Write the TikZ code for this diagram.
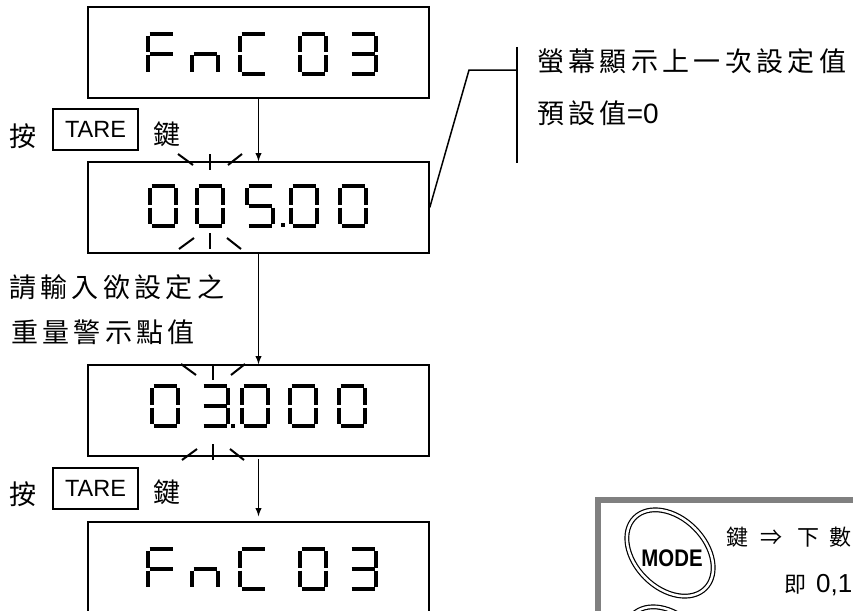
\documentclass[tikz,border=0pt]{standalone}
\usepackage{fontspec}
\setmainfont{Liberation Sans}
\newfontfamily\cjk[LetterSpace=16]{Noto Sans CJK TC}
\newfontfamily\cjkn{Noto Sans CJK TC}
\usetikzlibrary{arrows,positioning,calc}
\newcommand{\segA}{\draw[seg] (3.5,2) -- (26.5,2);}
\newcommand{\segB}{\draw[seg] (28,4) -- (28,20.5);}
\newcommand{\segC}{\draw[seg] (28,23.5) -- (28,40);}
\newcommand{\segD}{\draw[seg] (3.5,42) -- (26.5,42);}
\newcommand{\segE}{\draw[seg] (2,23.5) -- (2,40);}
\newcommand{\segF}{\draw[seg] (2,4) -- (2,20.5);}
\newcommand{\segG}{\draw[seg] (3.5,22) -- (26.5,22);}
\newcommand{\segdigit}[3]{\begin{scope}[shift={(#1,#2)}]
  \foreach \s in {#3} {\csname seg\s\endcsname}\end{scope}}
\newcommand{\blinkmarks}[3]{%
  \draw[blink] (#1,#2) -- ++(0,16);
  \draw[blink] (#1-32,#2) -- ++(15,11);
  \draw[blink] (#1+18,#2+11) -- ++(14,-11);
  \draw[blink] (#1,#3) -- ++(0,-16);
  \draw[blink] (#1-31,#3) -- ++(15,-11);
  \draw[blink] (#1+17,#3-11) -- ++(14,11);}

\begin{document}
\begin{tikzpicture}[x=1pt, y=-1pt, >=latex,
    display/.style={draw=black,line width=1.5pt,minimum width=341pt,minimum height=91pt,inner sep=0pt},
    tarekey/.style={draw=black,line width=1.5pt,minimum width=85pt,minimum height=41pt,inner sep=0pt,font=\fontsize{23.5}{26}\selectfont},
    cjktext/.style={inner sep=0pt,anchor=west,font=\cjk\fontsize{27}{30}\selectfont},
    cjkchar/.style={inner sep=0pt,font=\cjkn\fontsize{27}{30}\selectfont},
    seg/.style={line width=4pt,line cap=butt},
    blink/.style={line width=2pt},
    modekey/.style={draw,line width=1.2pt,double,double distance=2.5pt}]
  \useasboundingbox (0,0) rectangle (853,610);
  \node[display] at (258.5,52.5) (fnc) {};
  \node[display] at (258.5,207.5) (cur) {};
  \node[display] at (258.5,410.5) (ent) {};
  \node[display] at (258.5,567.5) (back) {};
  % FnC 03
  \segdigit{146}{32}{A,F,E,G} \segdigit{190}{32}{E,G,C} \segdigit{238}{32}{A,F,E,D}
  \segdigit{298}{32}{A,B,C,D,E,F} \segdigit{348}{32}{A,B,C,D,G}
  % 005.00
  \segdigit{148}{184}{A,B,C,D,E,F} \segdigit{195}{184}{A,B,C,D,E,F}
  \segdigit{245}{184}{A,F,G,C,D} \fill (280.5,222.5) rectangle ++(4,4);
  \segdigit{289}{184}{A,B,C,D,E,F} \segdigit{338}{184}{A,B,C,D,E,F}
  \blinkmarks{210}{154}{249}
  % 03.000
  \segdigit{150}{384}{A,B,C,D,E,F} \segdigit{200}{384}{A,B,C,D,G}
  \fill (230.5,423.5) rectangle ++(4,4);
  \segdigit{240}{384}{A,B,C,D,E,F} \segdigit{288}{384}{A,B,C,D,E,F}
  \segdigit{337}{384}{A,B,C,D,E,F}
  \blinkmarks{213}{364}{460}
  % FnC 03
  \segdigit{146}{547}{A,F,E,G} \segdigit{190}{547}{E,G,C} \segdigit{238}{547}{A,F,E,D}
  \segdigit{298}{547}{A,B,C,D,E,F} \segdigit{348}{547}{A,B,C,D,G}
  \draw[->,line width=1.8pt] (fnc) -- (cur);
  \draw[->,line width=1.8pt] (cur) -- (ent);
  \draw[->,line width=1.8pt,shorten <=2pt,shorten >=5pt] (ent) -- (back);
  \node[cjkchar] at (23,136) (press1) {按};
  \node[tarekey] at (95.5,129.5) (tare1) {TARE};
  \node[cjkchar] at (167,134) (key1) {鍵};
  \node[cjktext] at (9,287) (hint1) {請輸入欲設定之};
  \node[cjktext] at (11,332) (hint2) {重量警示點值};
  \node[cjkchar] at (23,494) (press2) {按};
  \node[tarekey] at (95.5,488.5) (tare2) {TARE};
  \node[cjkchar] at (167,492) (key2) {鍵};
  % callout
  \node[cjktext] at (537,61) (note1) {螢幕顯示上一次設定值};
  \node[cjktext] at (537,113) (note2) {預設值{\rmfamily\fontsize{28}{30}\selectfont =0}};
  \coordinate (brtop) at (517,47);
  \coordinate (brbot) at (517,163);
  \coordinate (knee) at (469,70);
  \draw[line width=1.8pt] (brtop) -- (brbot);
  \draw[line width=1.5pt] (cur.east) -- (knee) -- (knee -| brtop);
  % key legend
  \draw[line width=6pt,gray] (598,620) -- (598,500) -- (860,500);
  \draw[modekey,rotate around={-45:(670,553)}] (670,553) ellipse [x radius=50,y radius=35];
  \draw[modekey,rotate around={-45:(668,650)}] (668,650) ellipse [x radius=50,y radius=35];
  \node[font=\bfseries\fontsize{24}{26}\selectfont] at (672,558) (mode) {\scalebox{0.85}[1]{MODE}};
  \node[anchor=west,inner sep=0pt,font=\cjkn\fontsize{22}{25}\selectfont] at (726,537) (modetext)
    {鍵\hspace{12pt}⇒\hspace{15pt}下\hspace{10pt}數};
  \node[anchor=west,inner sep=0pt] at (784,585) (range)
    {{\cjkn\fontsize{22}{25}\selectfont 即}\hspace{10pt}{\fontsize{26}{30}\selectfont 0,1}};
\end{tikzpicture}
\end{document}
